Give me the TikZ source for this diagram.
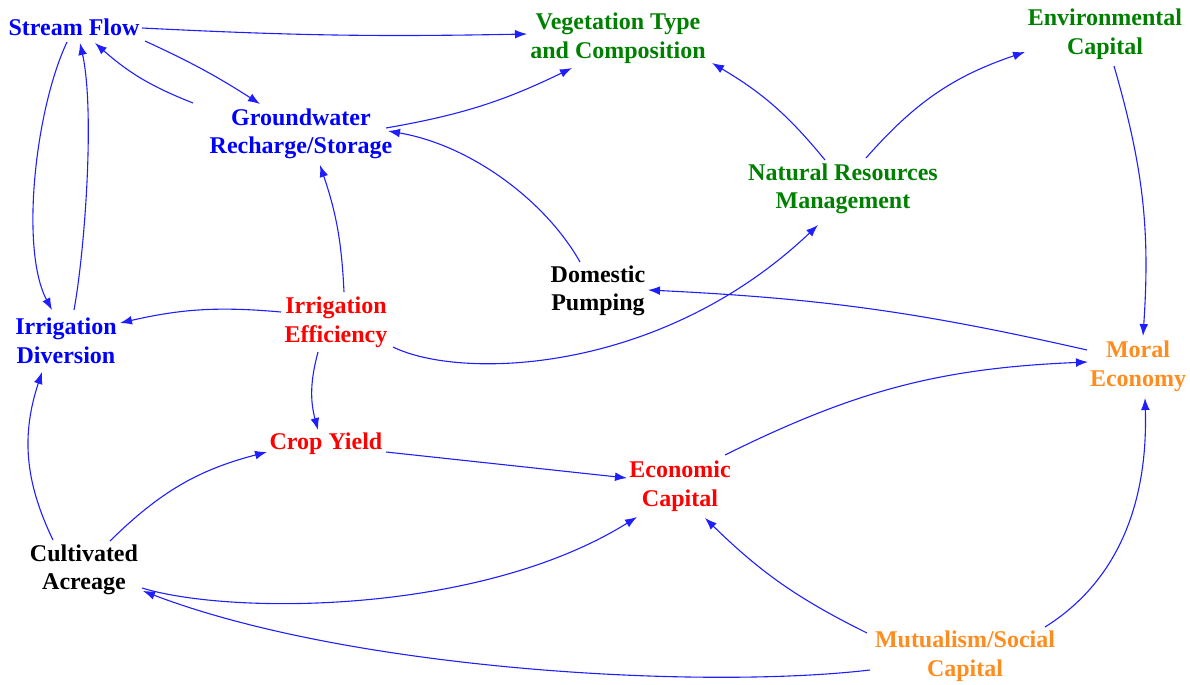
\documentclass[tikz,border=0pt]{standalone}
\usepackage{fontspec}
\setmainfont{Liberation Serif}
\usetikzlibrary{arrows.meta,calc}
\definecolor{cblue}{RGB}{0,0,255}
\definecolor{cgreen}{RGB}{0,128,0}
\definecolor{cred}{RGB}{255,0,0}
\definecolor{corange}{RGB}{255,140,30}
\definecolor{lineblue}{RGB}{30,30,255}
\begin{document}
\begin{tikzpicture}[x=0.5pt,y=-0.5pt,
  lbl/.style={font=\fontsize{12}{14.3}\selectfont\bfseries, align=center, inner sep=0pt},
  arr/.style={draw=lineblue, line width=0.55pt, -{Latex[length=6pt,width=4.4pt]}},
]
\useasboundingbox (0,0) rectangle (1190,685);
% nodes
\node[lbl,text=cblue]   (sf)  at (74,27)    {Stream Flow};
\node[lbl,text=cgreen]  (veg) at (618,38)   {Vegetation Type\\and Composition};
\node[lbl,text=cgreen]  (env) at (1105,34)  {Environmental\\Capital};
\node[lbl,text=cblue]   (gw)  at (301,134)  {Groundwater\\Recharge/Storage};
\node[lbl,text=cgreen]  (nrm) at (843,189)  {Natural Resources\\Management};
\node[lbl,text=black]   (dp)  at (598,291)  {Domestic\\Pumping};
\node[lbl,text=cblue]   (id)  at (66,341)   {Irrigation\\Diversion};
\node[lbl,text=cred]    (ie)  at (336,322)  {Irrigation\\Efficiency};
\node[lbl,text=corange] (me)  at (1138,366) {Moral\\Economy};
\node[lbl,text=cred]    (cy)  at (326,444)  {Crop Yield};
\node[lbl,text=cred]    (ec)  at (680,486)  {Economic\\Capital};
\node[lbl,text=black]   (ca)  at (84,570)   {Cultivated\\Acreage};
\node[lbl,text=corange] (mu)  at (965,656)  {Mutualism/Social\\Capital};
% connectors
\draw[arr] ([shift={(68,1)}]sf.center) to[bend right=2] ([shift={(-91,-4)}]veg.center);
\draw[arr] ([shift={(71,14)}]sf.center) to[bend left=4] ([shift={(-41,-30)}]gw.center);
\draw[arr] ([shift={(-108,-31)}]gw.center) to[bend left=10] ([shift={(21,16)}]sf.center);
\draw[arr] ([shift={(-7,15)}]sf.center) .. controls +(-32,68) and +(-32,-60) .. ([shift={(-14,-31)}]id.center);
\draw[arr] ([shift={(8,-31)}]id.center) .. controls +(11,-60) and +(15,67) .. ([shift={(6,16)}]sf.center);
\draw[arr] ([shift={(85,-6)}]gw.center) to[bend right=8] ([shift={(-46,30)}]veg.center);
\draw[arr] ([shift={(-18,-29)}]dp.center) .. controls +(-35,-62) and +(82,14) .. ([shift={(87,-3)}]gw.center);
\draw[arr] ([shift={(8,-30)}]ie.center) to[bend right=8] ([shift={(19,31)}]gw.center);
\draw[arr] ([shift={(-55,-10)}]ie.center) to[bend right=9] ([shift={(54,-18)}]id.center);
\draw[arr] ([shift={(-18,30)}]ie.center) to[bend right=15] ([shift={(-8,-14)}]cy.center);
\draw[arr] ([shift={(57,25)}]ie.center) .. controls +(67,33) and +(-158,150) .. ([shift={(-25,36)}]nrm.center);
\draw[arr] ([shift={(-18,-29)}]nrm.center) to[bend right=10] ([shift={(94,25)}]veg.center);
\draw[arr] ([shift={(23,-31)}]nrm.center) to[bend left=15] ([shift={(-80,18)}]env.center);
\draw[arr] ([shift={(9,32)}]env.center) to[bend left=10] ([shift={(5,-30)}]me.center);
\draw[arr] ([shift={(-51,-16)}]me.center) to[bend right=5] ([shift={(50,-1)}]dp.center);
\draw[arr] ([shift={(45,-31)}]ec.center) to[bend left=12] ([shift={(-50,-4)}]me.center);
\draw[arr] ([shift={(80,-29)}]mu.center) .. controls +(75,-47) and +(3,102) .. ([shift={(7,32)}]me.center);
\draw[arr] ([shift={(-98,-23)}]mu.center) to[bend left=9] ([shift={(25,32)}]ec.center);
\draw[arr] ([shift={(-95,14)}]mu.center) .. controls +(-170,20) and +(207,79) .. ([shift={(59,21)}]ca.center);
\draw[arr] ([shift={(58,18)}]ca.center) .. controls +(88,27) and +(-157,98) .. ([shift={(-43,31)}]ec.center);
\draw[arr] ([shift={(26,-29)}]ca.center) to[bend left=15] ([shift={(-59,8)}]cy.center);
\draw[arr] ([shift={(-31,-30)}]ca.center) to[bend left=22] ([shift={(-24,31)}]id.center);
\draw[arr] ([shift={(60,8)}]cy.center) -- ([shift={(-53,-8)}]ec.center);
\end{tikzpicture}
\end{document}
